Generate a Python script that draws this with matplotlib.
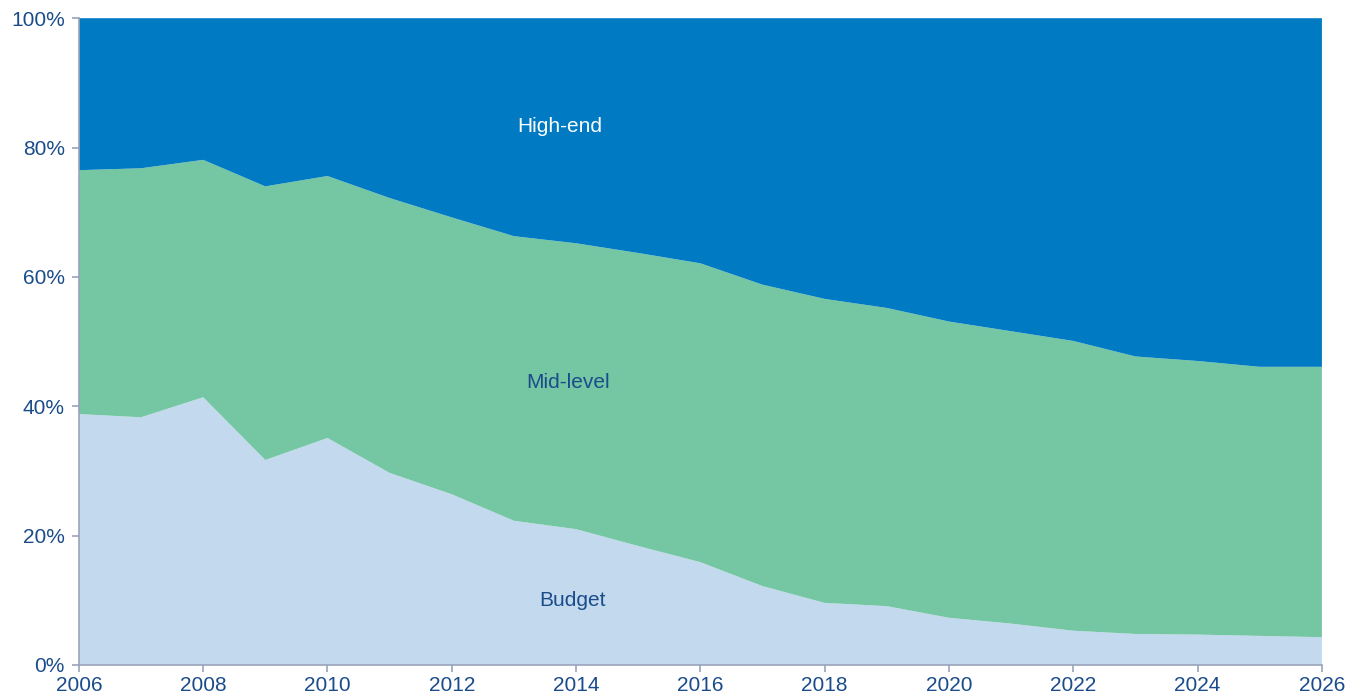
import matplotlib
matplotlib.use("Agg")
import matplotlib.pyplot as plt
import numpy as np

plt.rcParams['font.family'] = ['Liberation Sans', 'DejaVu Sans']

years = list(range(2006, 2027))
# share in %
budget = [38.8, 38.3, 41.4, 31.7, 35.1, 29.7, 26.4, 22.3, 21.0, 18.4, 15.9, 12.2,
          9.6, 9.1, 7.3, 6.4, 5.3, 4.8, 4.7, 4.5, 4.3]
budget_mid = [76.5, 76.8, 78.1, 74.0, 75.6, 72.2, 69.2, 66.3, 65.2, 63.7, 62.1, 58.8,
              56.6, 55.2, 53.1, 51.6, 50.1, 47.7, 47.0, 46.1, 46.1]
mid = [t - b for t, b in zip(budget_mid, budget)]
high = [100 - t for t in budget_mid]

c_budget = "#C3D9EE"
c_mid = "#75C6A2"
c_high = "#007BC3"
txt = "#1A4C8B"
axc = "#9AA3BA"

fig = plt.figure(figsize=(13.6, 7), dpi=100)
ax = fig.add_axes([0.058, 0.05, 0.914, 0.924])

ax.stackplot(years, budget, mid, high, colors=[c_budget, c_mid, c_high], linewidth=0)

ax.set_xlim(2006, 2026)
ax.set_ylim(0, 100)
ax.set_xticks(range(2006, 2027, 2))
ax.set_yticks(range(0, 101, 20))
ax.set_yticklabels([f"{v}%" for v in range(0, 101, 20)])

for s in ["top", "right"]:
    ax.spines[s].set_visible(False)
for s in ["left", "bottom"]:
    ax.spines[s].set_color(axc)
    ax.spines[s].set_linewidth(1.2)
ax.tick_params(colors=axc, labelcolor=txt, labelsize=15, length=5, width=1.2)
ax.tick_params(axis="x", pad=3)
ax.tick_params(axis="y", pad=5)

ax.text(2013.74, 83.2, "High-end", color="white", fontsize=15, ha="center", va="center")
ax.text(2013.87, 43.7, "Mid-level", color=txt, fontsize=15, ha="center", va="center")
ax.text(2013.95, 10.0, "Budget", color=txt, fontsize=15, ha="center", va="center")

fig.savefig("out.png", dpi=100)
